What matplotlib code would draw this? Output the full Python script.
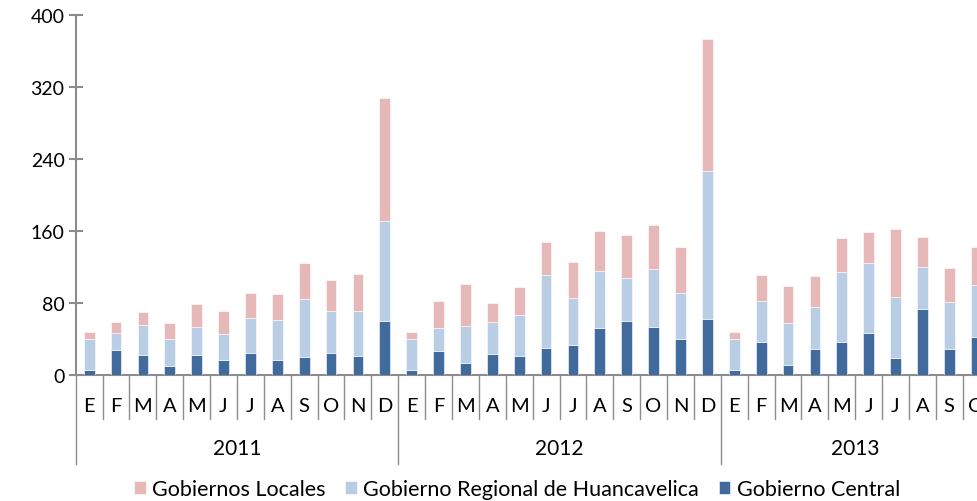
import matplotlib
matplotlib.use("Agg")
import matplotlib.pyplot as plt
from matplotlib.transforms import blended_transform_factory
import numpy as np

plt.rcParams['font.family'] = ['Lato', 'DejaVu Sans']

years = ['2011', '2012', '2013']
months_per_year = [12, 12, 10]
month_names = ['E', 'F', 'M', 'A', 'M', 'J', 'J', 'A', 'S', 'O', 'N', 'D']

gob_central = [5.6, 27.8, 21.9, 9.6, 21.9, 16.7, 24.5, 16.7, 20.4, 24.8, 21.5, 60.4,
               5.6, 27.1, 13.3, 23.7, 20.8, 30.4, 33.4, 51.9, 60.0, 53.4, 40.0, 61.9,
               5.2, 37.1, 11.1, 28.6, 36.7, 46.4, 18.9, 73.4, 28.6, 41.9]
gob_regional = [34.8, 19.3, 34.1, 30.1, 31.5, 29.3, 39.3, 44.1, 64.5, 46.7, 50.0, 110.8,
                34.8, 24.8, 41.6, 35.6, 45.9, 80.8, 52.6, 63.4, 48.2, 64.8, 50.8, 165.3,
                35.2, 44.9, 46.7, 46.7, 77.2, 78.6, 68.3, 46.1, 52.6, 58.2]
gob_locales = [7.4, 12.2, 14.1, 18.1, 25.9, 24.8, 27.4, 28.9, 40.0, 34.5, 41.2, 136.8,
               7.4, 30.0, 45.9, 20.8, 31.2, 37.1, 40.0, 44.4, 47.1, 48.6, 51.9, 146.0,
               7.1, 29.2, 40.9, 35.2, 38.5, 33.7, 74.5, 33.7, 37.8, 41.9]

c_central = '#406B9C'
c_regional = '#B9CDE5'
c_locales = '#E6B9B8'
grey = '#8C8C8C'

W, H = 978, 502
fig = plt.figure(figsize=(W / 100, H / 100), dpi=100)
ax_left, ax_right, ax_top, ax_bottom = 75.7, 989.6, 16, 376
ax = fig.add_axes([ax_left / W, 1 - ax_bottom / H, (ax_right - ax_left) / W, (ax_bottom - ax_top) / H])

n = len(gob_central)
x = np.arange(n)
cen = np.array(gob_central)
reg = np.array(gob_regional)
loc = np.array(gob_locales)
bw = 0.4
ax.bar(x, cen, bw, color=c_central, edgecolor='white', linewidth=0.4, label='Gobierno Central', zorder=3)
ax.bar(x, reg, bw, bottom=cen, color=c_regional, edgecolor='white', linewidth=0.4,
       label='Gobierno Regional de Huancavelica', zorder=3)
ax.bar(x, loc, bw, bottom=cen + reg, color=c_locales, edgecolor='white', linewidth=0.4,
       label='Gobiernos Locales', zorder=3)

ax.set_xlim(-0.5, n - 0.5)
ax.set_ylim(0, 400)
ax.set_yticks([0, 80, 160, 240, 320, 400])
ax.tick_params(axis='y', direction='inout', length=10, width=1.5, color=grey, labelsize=14, pad=3)
ax.set_xticks([])
for s in ['top', 'right']:
    ax.spines[s].set_visible(False)
for s in ['left', 'bottom']:
    ax.spines[s].set_color(grey)
    ax.spines[s].set_linewidth(1.5)

trans = blended_transform_factory(ax.transData, ax.transAxes)
px = 1.0 / (ax_bottom - ax_top)
short_end = -(420 - ax_bottom) * px
long_end = -(465 - ax_bottom) * px

# month labels and separators
labels = []
for mcount in months_per_year:
    labels += month_names[:mcount]
year_starts = list(np.cumsum([0] + months_per_year[:-1]))
for i in range(n + 1):
    is_year = i in year_starts
    ax.plot([i - 0.5, i - 0.5], [0, long_end if is_year else short_end], color=grey,
            linewidth=1.0, transform=trans, clip_on=False)
for i, lab in enumerate(labels):
    ax.text(i, -(407 - ax_bottom) * px, lab, transform=trans, ha='center', va='center', fontsize=14.5)
for y, start, mcount in zip(years, year_starts, months_per_year):
    ax.text(start + (mcount - 1) / 2, -(449 - ax_bottom) * px, y, transform=trans,
            ha='center', va='center', fontsize=15)

handles, lbls = ax.get_legend_handles_labels()
fig.legend(handles[::-1], lbls[::-1], loc='center', bbox_to_anchor=(517 / W, 1 - 490 / H),
           ncol=3, frameon=False, fontsize=15.5, handlelength=0.55, handleheight=0.55,
           handletextpad=0.3, columnspacing=0.9, borderpad=0)

fig.savefig('out.png', dpi=100)
